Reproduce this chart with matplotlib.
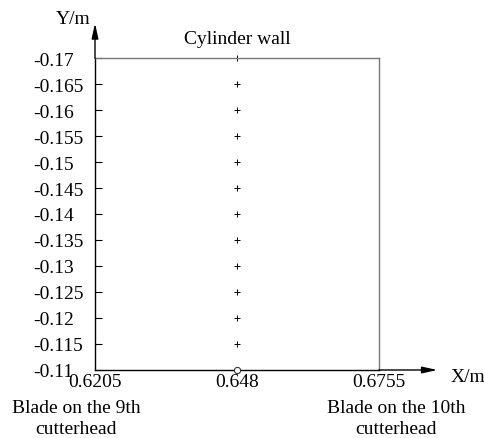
import numpy as np
import matplotlib.pyplot as plt

plt.rcParams['font.family'] = ['Liberation Serif', 'DejaVu Serif']

# monitoring points
point_x = [0.648] * 12
point_y = [-0.17, -0.165, -0.16, -0.155, -0.15, -0.145, -0.14, -0.135,
           -0.13, -0.125, -0.12, -0.115]
origin_x = [0.648]
origin_y = [-0.11]

x_ticks = [0.6205, 0.648, 0.6755]
x_labels = ['0.6205', '0.648', '0.6755']
y_ticks = [-0.17, -0.165, -0.16, -0.155, -0.15, -0.145, -0.14, -0.135,
           -0.13, -0.125, -0.12, -0.115, -0.11]
y_labels = ['-0.17', '-0.165', '-0.16', '-0.155', '-0.15', '-0.145', '-0.14',
            '-0.135', '-0.13', '-0.125', '-0.12', '-0.115', '-0.11']

FS = 14

fig = plt.figure(figsize=(4.84, 4.39), dpi=100)
ax = fig.add_axes([95 / 484, 1 - 371 / 439, (379 - 95) / 484, (371 - 59) / 439])

ax.set_xlim(0.6205, 0.6755)
ax.set_ylim(-0.11, -0.17)

# box: top and right in grey
for s in ['top', 'right']:
    ax.spines[s].set_color('#777777')
    ax.spines[s].set_linewidth(1.0)
for s in ['left', 'bottom']:
    ax.spines[s].set_color('black')
    ax.spines[s].set_linewidth(1.0)

ax.plot(point_x, point_y, '+', color='black', ms=5, mew=0.7, clip_on=False)
ax.plot(origin_x, origin_y, 'o', mfc='white', mec='#333333', ms=4.5, mew=0.8,
        clip_on=False, zorder=5)

# y labels are left aligned in the original
ax.set_yticks(y_ticks)
ax.set_yticklabels(y_labels, fontsize=FS)
ax.tick_params(axis='y', direction='in', length=5, width=0.8, pad=62 * 0.72)
for lab in ax.get_yticklabels():
    lab.set_ha('left')
ax.set_xticks(x_ticks)
ax.set_xticklabels(x_labels, fontsize=FS)
ax.tick_params(axis='x', length=0, pad=2.5)

# axis arrows
ax.annotate('', xy=(0, 1.12), xytext=(0, 0.99), xycoords='axes fraction',
            arrowprops=dict(arrowstyle='-|>,head_length=0.9,head_width=0.2',
                            color='black', lw=1.0), annotation_clip=False)
ax.annotate('', xy=(1.215, 0), xytext=(0.99, 0), xycoords='axes fraction',
            arrowprops=dict(arrowstyle='-|>,head_length=0.9,head_width=0.2',
                            color='black', lw=1.0), annotation_clip=False)

fig.text(73 / 484, 1 - 19 / 439, 'Y/m', fontsize=FS, ha='center', va='center')
fig.text(468 / 484, 1 - 378 / 439, 'X/m', fontsize=FS, ha='center', va='center')
fig.text(237 / 484, 1 - 40 / 439, 'Cylinder wall', fontsize=FS, ha='center', va='center')
fig.text(76 / 484, 1 - 419 / 439, 'Blade on the 9th\ncutterhead', fontsize=FS,
         ha='center', va='center', linespacing=1.25)
fig.text(396 / 484, 1 - 419 / 439, 'Blade on the 10th\ncutterhead', fontsize=FS,
         ha='center', va='center', linespacing=1.25)

fig.savefig('out.png', dpi=100)
